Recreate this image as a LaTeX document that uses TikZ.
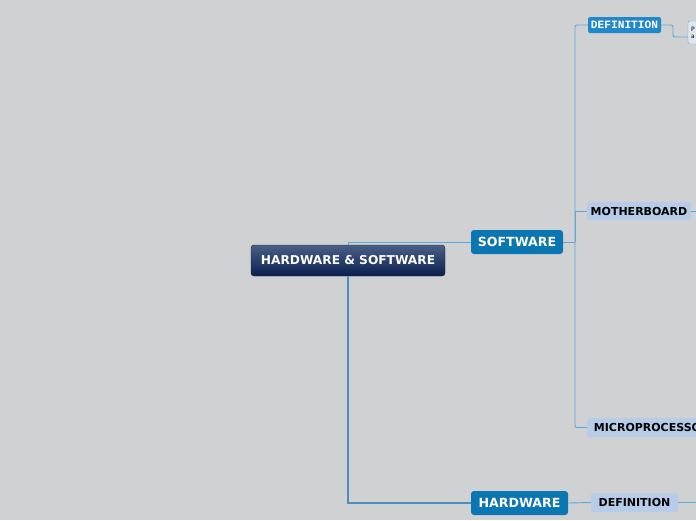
\documentclass[tikz,border=0pt]{standalone}
\usepackage{fontspec}
\setmainfont{DejaVu Sans}
\newfontfamily\monof{Liberation Mono}
\definecolor{bgc}{HTML}{D0D1D3}
\definecolor{rootTop}{HTML}{4A5F86}
\definecolor{rootBot}{HTML}{0A1F4E}
\definecolor{mainblue}{HTML}{0A76B2}
\definecolor{defblue}{HTML}{2288CC}
\definecolor{lightbox}{HTML}{B6CCE8}
\definecolor{connc}{HTML}{5AA8DC}
\definecolor{smallfill}{HTML}{E2E6EC}
\tikzset{
  conn/.style={draw=connc, line width=0.9pt},
  rootconn/.style={draw=connc!85!black, line width=1.1pt},
  rootbox/.style={draw=black!85, rounded corners=3pt, top color=rootTop, bottom color=rootBot,
    text=white, font=\bfseries\fontsize{12.2}{14}\selectfont, inner sep=0pt},
  mainbox/.style={fill=mainblue, rounded corners=3pt, text=white,
    font=\bfseries\fontsize{12.6}{14}\selectfont, inner sep=0pt},
  defbox/.style={fill=defblue, rounded corners=2pt, text=white,
    font=\monof\bfseries\fontsize{11.2}{12}\selectfont, inner sep=0pt},
  subbox/.style={fill=lightbox, rounded corners=3pt, text=black,
    font=\bfseries\fontsize{11}{12}\selectfont, inner sep=0pt},
  smallbox/.style={fill=smallfill, draw=connc, rounded corners=2pt, text=black,
    font=\fontsize{6}{7}\selectfont, inner sep=0pt, align=left, text width=46pt},
}
\begin{document}
\begin{tikzpicture}[x=1pt,y=-1pt]
\useasboundingbox (0,0) rectangle (696,520);
\clip (0,0) rectangle (696,520);
\fill[bgc] (0,0) rectangle (696,520);

\node[rootbox, minimum width=194pt, minimum height=31pt] (root) at (348,260.5) {HARDWARE \& SOFTWARE};
\node[mainbox, minimum width=92pt, minimum height=24pt] (sw) at (517,242) {SOFTWARE};
\node[mainbox, minimum width=97pt, minimum height=24pt] (hw) at (519.5,503) {HARDWARE};
\node[defbox, minimum width=73pt, minimum height=16pt] (def1) at (624.5,25) {DEFINITION};
\node[smallbox, minimum width=52pt, minimum height=23pt] (small) at (714,32.5) {P\\a};
\node[subbox, minimum width=104pt, minimum height=18pt] (mb) at (639,211) {MOTHERBOARD};
\node[subbox, minimum width=125pt, minimum height=19pt, anchor=west] (micro) at (587,427.5) {\hspace{4pt}MICROPROCESSOR\hfill};
\node[subbox, minimum width=87pt, minimum height=19pt] (hwdef) at (634.5,502.5) {DEFINITION};

\coordinate (swb) at (575,242);
\coordinate (mbend) at (700,211);
\coordinate (hwend) at (700,502.5);
\coordinate (dbend) at (673,25);

\draw[conn] (root.north) |- (sw.west);
\draw[rootconn] (root.south) |- (hw.west);
\draw[conn] (sw.east) -- (swb);
\draw[conn, rounded corners=2pt] (def1.west) -| (swb) |- (micro.west);
\draw[conn] (swb) |- (mb.west);
\draw[conn, rounded corners=2pt] (def1.east) -- (dbend) |- ([yshift=-4.5pt]small.west);
\draw[conn] (mb.east) -- (mbend);
\draw[conn] (hw.east) -- (hwdef.west);
\draw[conn] (hwdef.east) -- (hwend);
\end{tikzpicture}
\end{document}
